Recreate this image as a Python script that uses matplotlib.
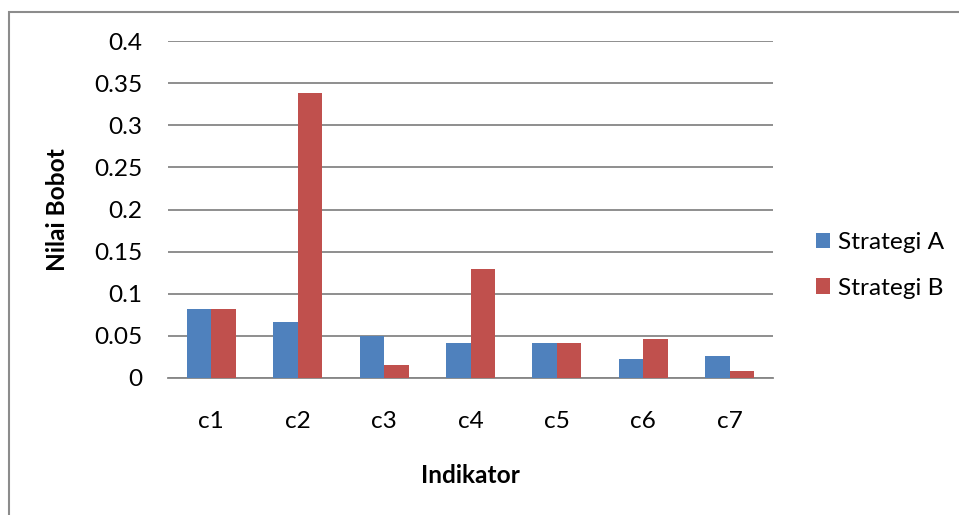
import matplotlib
matplotlib.use("Agg")
import matplotlib.pyplot as plt
import numpy as np
from matplotlib.patches import Rectangle

plt.rcParams['font.family'] = ['Lato', 'DejaVu Sans']

indikator = ['c1', 'c2', 'c3', 'c4', 'c5', 'c6', 'c7']
strategi_a = [0.082, 0.067, 0.050, 0.042, 0.042, 0.023, 0.026]
strategi_b = [0.082, 0.338, 0.016, 0.129, 0.042, 0.046, 0.008]
y_ticks = [0, 0.05, 0.1, 0.15, 0.2, 0.25, 0.3, 0.35, 0.4]
y_labels = ['0', '0.05', '0.1', '0.15', '0.2', '0.25', '0.3', '0.35', '0.4']

W, H = 959, 515
fs = 17.6
fig = plt.figure(figsize=(W / 100, H / 100), dpi=100)
ax = fig.add_axes([168 / W, 1 - 378 / H, (773 - 168) / W, (378 - 41) / H])

# outer chart border (only top and left fall inside the image)
fig.patches.append(Rectangle((9 / W, -0.1), 1.2, 1 - 12 / H + 0.1,
                             transform=fig.transFigure, fill=False,
                             edgecolor='#8c8c8c', linewidth=1.5))

x = np.arange(len(indikator))
w = 0.284
ax.bar(x - w / 2, strategi_a, w, color='#4f81bd', label='Strategi A', zorder=3)
ax.bar(x + w / 2, strategi_b, w, color='#c0504d', label='Strategi B', zorder=3)

ax.set_xlim(-0.5, len(indikator) - 0.5)
ax.set_ylim(0, 0.4)
ax.set_yticks(y_ticks)
ax.set_yticklabels(y_labels)
ax.set_xticks(x)
ax.set_xticklabels(indikator)
ax.tick_params(axis='both', length=0, labelsize=fs, colors='black')
ax.tick_params(axis='y', pad=18.7)
ax.tick_params(axis='x', pad=23.8)
ax.grid(axis='y', color='#868686', linewidth=1.3, zorder=0)
for side in ['top', 'right', 'left']:
    ax.spines[side].set_visible(False)
ax.spines['bottom'].set_color('#868686')
ax.spines['bottom'].set_linewidth(1.3)

ax.set_ylabel('Nilai Bobot', fontsize=fs, fontweight='bold')
ax.set_xlabel('Indikator', fontsize=fs, fontweight='bold')
ax.yaxis.set_label_coords(-0.1636, 0.5)
ax.xaxis.set_label_coords(0.5, -0.255)

fig.legend(loc='center left', bbox_to_anchor=(816 / W, 1 - 265.5 / H),
           frameon=False, fontsize=fs, borderpad=0, borderaxespad=0,
           handlelength=0.58, handleheight=0.58,
           handletextpad=0.32, labelspacing=1.0)

fig.savefig('out.png', dpi=100)
